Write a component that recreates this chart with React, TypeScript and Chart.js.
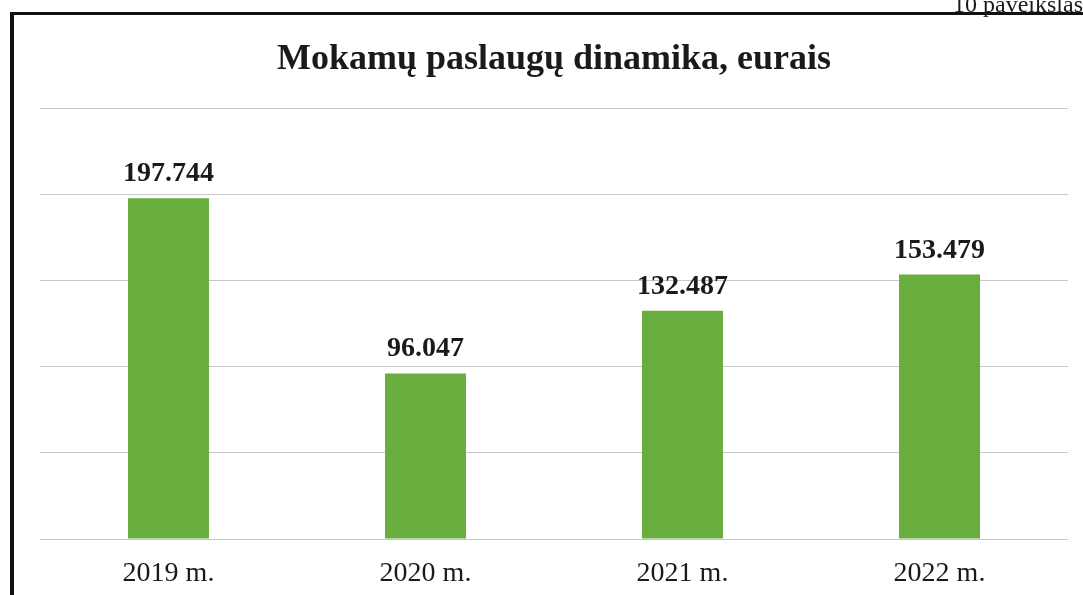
import React, { useEffect, useRef } from "react";
import { Chart, registerables } from "chart.js";

Chart.register(...registerables);

const categories = ["2019 m.", "2020 m.", "2021 m.", "2022 m."];
const values = [197744, 96047, 132487, 153479];
const yTicks = [0, 50000, 100000, 150000, 200000, 250000];
const titleText = "Mokamų paslaugų dinamika, eurais";
const cornerText = "10 paveikslas";

const SERIF = '"Liberation Serif", "Times New Roman", serif';

function fmt(v: number): string {
  const s = Math.round(v).toString();
  return s.replace(/\B(?=(\d{3})+(?!\d))/g, ".");
}

const labelPlugin = {
  id: "barLabels",
  afterDatasetsDraw(chart: any) {
    const ctx = chart.ctx;
    const meta = chart.getDatasetMeta(0);
    ctx.save();
    ctx.font = `bold 28px ${SERIF}`;
    ctx.fillStyle = "#1a1a1a";
    ctx.textAlign = "center";
    ctx.textBaseline = "alphabetic";
    meta.data.forEach((bar: any, i: number) => {
      ctx.fillText(fmt(values[i]), bar.x, bar.y - 17);
    });
    ctx.restore();
  },
};

export default function App() {
  const ref = useRef<HTMLCanvasElement | null>(null);
  useEffect(() => {
    if (!ref.current) return;
    const chart = new Chart(ref.current, {
      type: "bar",
      data: {
        labels: categories,
        datasets: [
          {
            data: values,
            backgroundColor: "#6aad3f",
            borderWidth: 0,
            barPercentage: 0.315,
            categoryPercentage: 1,
          },
        ],
      },
      options: {
        animation: false,
        responsive: false,
        maintainAspectRatio: false,
        layout: { padding: { left: 40, right: 15, top: 0, bottom: 0 } },
        plugins: {
          legend: { display: false },
          tooltip: { enabled: false },
          title: {
            display: true,
            text: titleText,
            color: "#1a1a1a",
            font: { family: SERIF, size: 36, weight: "bold" },
            padding: { top: 38, bottom: 27 },
          },
        },
        scales: {
          x: {
            grid: { display: false },
            border: { display: false },
            afterFit: (scale: any) => {
              scale.height = 56;
            },
            ticks: {
              color: "#1a1a1a",
              font: { family: SERIF, size: 28 },
              padding: 10,
            },
          },
          y: {
            min: 0,
            max: 250000,
            afterBuildTicks: (scale: any) => {
              scale.ticks = yTicks.map((v) => ({ value: v }));
            },
            afterFit: (scale: any) => {
              scale.width = 0;
            },
            grid: { color: "#c8c8c8", lineWidth: 1, drawTicks: false },
            border: { display: false },
            ticks: { display: false },
          },
        },
      },
      plugins: [labelPlugin],
    });
    return () => chart.destroy();
  }, []);

  return (
    <div
      style={{
        position: "fixed",
        left: 0,
        top: 0,
        width: 1083,
        height: 595,
        background: "#ffffff",
        overflow: "hidden",
      }}
    >
      <canvas
        ref={ref}
        width={1083}
        height={595}
        style={{ position: "absolute", left: 0, top: 0, width: 1083, height: 595 }}
      />
      <div
        style={{
          position: "absolute",
          left: 10,
          top: 12,
          width: 2000,
          height: 2000,
          borderLeft: "4px solid #111",
          borderTop: "3px solid #111",
          pointerEvents: "none",
        }}
      />
      <div
        style={{
          position: "absolute",
          left: 953,
          top: -10,
          fontFamily: SERIF,
          fontSize: 24,
          lineHeight: "28px",
          color: "#1a1a1a",
          whiteSpace: "nowrap",
        }}
      >
        {cornerText}
      </div>
    </div>
  );
}
